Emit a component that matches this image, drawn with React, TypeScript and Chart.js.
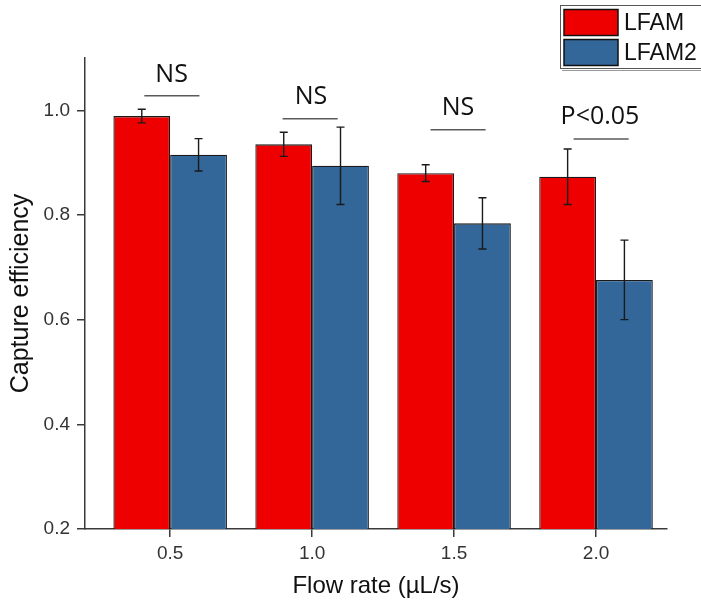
import React, { useEffect, useRef } from "react";
import { Chart, registerables } from "chart.js";

Chart.register(...registerables);

const categories = [0.5, 1.0, 1.5, 2.0];
const lfamValues = [0.989, 0.935, 0.88, 0.873];
const lfamErrors = [0.013, 0.023, 0.016, 0.053];
const lfam2Values = [0.915, 0.894, 0.784, 0.676];
const lfam2Errors = [0.031, 0.074, 0.049, 0.076];
const yTicks = [0.2, 0.4, 0.6, 0.8, 1.0];
const xTicks = [0.5, 1.0, 1.5, 2.0];
const seriesNames = ["LFAM", "LFAM2"];

const annotationTexts = ["NS", "NS", "NS", "P<0.05"];
const annotationTextX = [0.505, 0.996, 1.514, 2.014];
const annotationTextY = [1.055, 1.013, 0.991, 0.974];
const annotationLineX = [0.506, 0.993, 1.514, 2.018];
const annotationLineY = [1.028, 0.984, 0.963, 0.945];
const annotationHalfWidth = 0.097;

const RED = "#ee0000";
const BLUE = "#336699";
const AXIS = "#3a3a3a";
const TEXT = "#333333";
const FONT = "'Liberation Sans', Arial, sans-serif";

const errorBarPlugin = {
  id: "errorBars",
  afterDatasetsDraw(chart: any) {
    const ctx = chart.ctx;
    const y = chart.scales.y;
    const errs = [lfamErrors, lfam2Errors];
    ctx.save();
    ctx.strokeStyle = "#1a1a1a";
    ctx.lineWidth = 1.4;
    chart.data.datasets.forEach((ds: any, i: number) => {
      const meta = chart.getDatasetMeta(i);
      meta.data.forEach((bar: any, j: number) => {
        const v = ds.data[j].y;
        const e = errs[i][j];
        const x = bar.x;
        const yt = y.getPixelForValue(v + e);
        const yb = y.getPixelForValue(v - e);
        ctx.beginPath();
        ctx.moveTo(x, yt);
        ctx.lineTo(x, yb);
        ctx.moveTo(x - 4, yt);
        ctx.lineTo(x + 4, yt);
        ctx.moveTo(x - 4, yb);
        ctx.lineTo(x + 4, yb);
        ctx.stroke();
      });
    });
    ctx.restore();
  },
};

const annotationPlugin = {
  id: "annotations",
  afterDraw(chart: any) {
    const ctx = chart.ctx;
    const xs = chart.scales.x;
    const ys = chart.scales.y;
    ctx.save();
    annotationTexts.forEach((t, i) => {
      const ly = ys.getPixelForValue(annotationLineY[i]);
      ctx.strokeStyle = "#5a5a5a";
      ctx.lineWidth = 1.5;
      ctx.beginPath();
      ctx.moveTo(xs.getPixelForValue(annotationLineX[i] - annotationHalfWidth), ly);
      ctx.lineTo(xs.getPixelForValue(annotationLineX[i] + annotationHalfWidth), ly);
      ctx.stroke();
      ctx.fillStyle = "#111111";
      ctx.font = "25px 'Open Sans', sans-serif";
      ctx.textAlign = "center";
      ctx.textBaseline = "alphabetic";
      ctx.fillText(t, xs.getPixelForValue(annotationTextX[i]), ys.getPixelForValue(annotationTextY[i]));
    });
    ctx.restore();

    // legend
    ctx.save();
    ctx.fillStyle = "#ffffff";
    ctx.fillRect(560, 5, 150, 64);
    ctx.strokeStyle = "#555555";
    ctx.lineWidth = 1;
    ctx.strokeRect(560.5, 5.5, 150, 63);
    ctx.strokeStyle = "#999999";
    ctx.beginPath();
    ctx.moveTo(562, 70.5);
    ctx.lineTo(705, 70.5);
    ctx.stroke();
    const rowTops = [9.5, 39.5];
    chart.data.datasets.forEach((ds: any, i: number) => {
      const top = rowTops[i];
      ctx.fillStyle = ds.backgroundColor;
      ctx.fillRect(564, top, 54, 26);
      ctx.strokeStyle = "#111111";
      ctx.lineWidth = 1.5;
      ctx.strokeRect(564, top, 54, 26);
      ctx.fillStyle = "#111111";
      ctx.font = "23px " + FONT;
      ctx.textAlign = "left";
      ctx.textBaseline = "middle";
      ctx.fillText(ds.label, 624, top + 14);
    });
    ctx.restore();
  },
};

export default function App() {
  const ref = useRef<HTMLCanvasElement>(null);
  useEffect(() => {
    if (!ref.current) return;
    const chart = new Chart(ref.current, {
      type: "bar",
      data: {
        datasets: [
          {
            label: seriesNames[0],
            data: categories.map((c, i) => ({ x: c, y: lfamValues[i] })),
            backgroundColor: RED,
            borderColor: "#1a1a1a",
            borderWidth: 1.3,
            categoryPercentage: 0.8,
            barPercentage: 1.0,
          },
          {
            label: seriesNames[1],
            data: categories.map((c, i) => ({ x: c, y: lfam2Values[i] })),
            backgroundColor: BLUE,
            borderColor: "#1a1a1a",
            borderWidth: 1.3,
            categoryPercentage: 0.8,
            barPercentage: 1.0,
          },
        ],
      } as any,
      options: {
        animation: false,
        responsive: false,
        layout: { padding: { top: 58, right: 34, left: 0, bottom: 0 } },
        plugins: { legend: { display: false }, tooltip: { enabled: false } },
        scales: {
          x: {
            type: "linear",
            min: 0.2,
            max: 2.25,
            offset: false,
            afterBuildTicks: (s: any) => {
              s.ticks = xTicks.map((v) => ({ value: v }));
            },
            afterFit: (s: any) => {
              s.height = 76;
            },
            ticks: {
              callback: (v: any) => Number(v).toFixed(1),
              color: TEXT,
              font: { family: FONT, size: 19 },
              padding: 5,
              maxRotation: 0,
              autoSkip: false,
            },
            grid: { display: true, offset: false, drawOnChartArea: false, drawTicks: true, tickLength: 8, color: AXIS, lineWidth: 1.5 },
            border: { display: true, color: AXIS, width: 1.5 },
            title: {
              display: true,
              text: "Flow rate (µL/s)",
              color: "#111111",
              font: { family: FONT, size: 24 },
              padding: { top: 0, bottom: 4 },
            },
          },
          y: {
            type: "linear",
            min: 0.2,
            max: 1.1,
            afterBuildTicks: (s: any) => {
              s.ticks = yTicks.map((v) => ({ value: v }));
            },
            afterFit: (s: any) => {
              s.width = 85;
            },
            ticks: {
              callback: (v: any) => Number(v).toFixed(1),
              color: TEXT,
              font: { family: FONT, size: 19 },
              padding: 7,
            },
            grid: { display: true, drawOnChartArea: false, drawTicks: true, tickLength: 8, color: AXIS, lineWidth: 1.5 },
            border: { display: true, color: AXIS, width: 1.5 },
            title: {
              display: true,
              text: "Capture efficiency",
              color: "#111111",
              font: { family: FONT, size: 25 },
              padding: { top: 6, bottom: 0 },
            },
          },
        },
      } as any,
      plugins: [errorBarPlugin, annotationPlugin],
    });
    return () => chart.destroy();
  }, []);
  return (
    <div style={{ position: "fixed", left: 0, top: 0, width: 701, height: 605, background: "#fff" }}>
      <canvas ref={ref} width={701} height={605} style={{ display: "block" }} />
    </div>
  );
}
